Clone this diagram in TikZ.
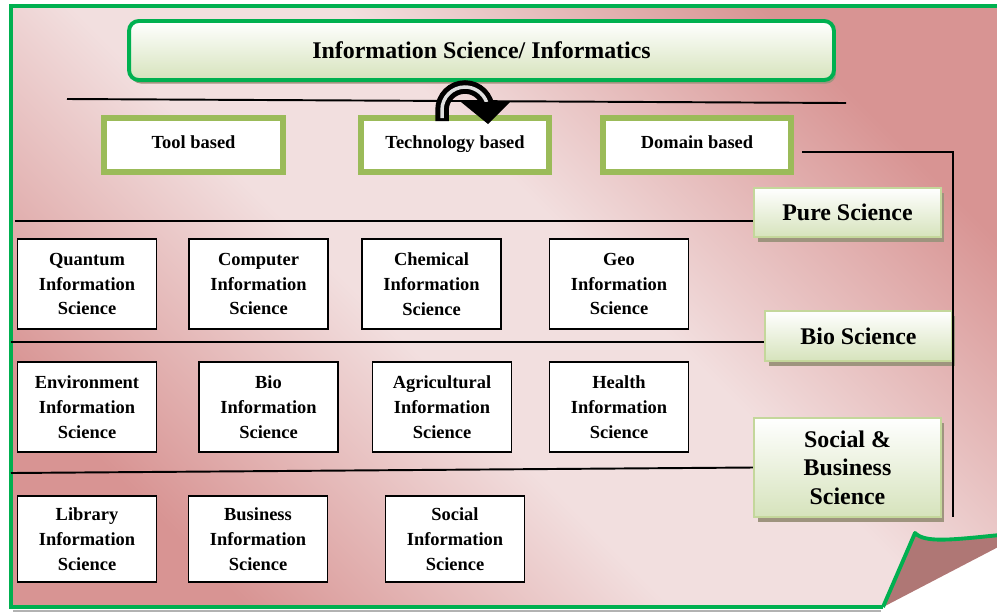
\documentclass[tikz,border=0pt]{standalone}
\usepackage{fontspec}
\setmainfont{Liberation Serif}
\usetikzlibrary{shadows}
\definecolor{framegreen}{RGB}{0,176,80}
\definecolor{olivegreen}{RGB}{155,187,89}
\definecolor{palegreen}{RGB}{214,227,188}
\definecolor{catborder}{RGB}{196,215,155}
\definecolor{pglight}{RGB}{242,223,223}
\definecolor{pgdark}{RGB}{216,148,147}
\definecolor{flapred}{RGB}{175,119,117}
\definecolor{shadowbrown}{RGB}{158,148,126}
%%%%%%% page shading, light band along the diagonal
\pgfdeclarehorizontalshading{pagefade}{100bp}{color(0bp)=(pgdark); color(25bp)=(pgdark);
  color(44bp)=(pglight); color(56bp)=(pglight); color(75bp)=(pgdark); color(100bp)=(pgdark)}
\tikzset{
every picture/.style={line width=0.8pt, >=stealth},
%%%%%%%%%% Node styles
titlebox/.style={rounded corners=5.5pt, draw=framegreen, line width=2.2pt,
                 top color=white, bottom color=palegreen, align=center,
                 font=\fontsize{13.6}{16}\selectfont\bfseries,
                 drop shadow={shadow xshift=0.04cm, shadow yshift=-0.07cm,
                              fill=shadowbrown, opacity=1}},
basebox/.style={draw=olivegreen, line width=3.4pt, fill=white,
                minimum height=1.08cm, align=center,
                text height=0.68em, text depth=0.3em,
                font=\fontsize{10.5}{14}\selectfont\bfseries},
catbox/.style={draw=catborder, line width=1.2pt, top color=white,
               bottom color=palegreen, minimum width=3.74cm, align=center,
               font=\fontsize{13.6}{16.2}\selectfont\bfseries,
               drop shadow={shadow xshift=0.07cm, shadow yshift=-0.1cm,
                            fill=shadowbrown, opacity=1}},
infobox/.style={draw=black, line width=1.1pt, fill=white,
                minimum width=2.78cm, minimum height=1.8cm, align=center,
                font=\fontsize{10.5}{14.2}\selectfont\bfseries},
%%%% different line styles:
sepline/.style={line width=1.1pt, black},
frame/.style={framegreen, line width=2.2pt},
arrowband/.style={line width=0.27cm, black},
arrowshine/.style={line width=0.07cm, black!12}
}

\begin{document}
\begin{tikzpicture}[x=0.02cm, y=-0.02cm]
\useasboundingbox (0,0) rectangle (997,613);
\fill[white] (0,0) rectangle (997,613);
%% the page with its folded corner
\shade[shading=pagefade, shading angle=45] (11,6) -- (1000,6) -- (1000,546) -- (883,607) -- (11,607) -- cycle;
\draw[gray!60, line width=0.6pt] (13,611) -- (881,611);
\draw[frame] (1000,6) -- (11,6) -- (11,607) -- (883,607);
\fill[flapred] (883,607) -- (915,533) .. controls (925,543) and (950,540) .. (1000,535) -- (1000,546) -- cycle;
\draw[frame, line join=round] (883,607) -- (915,533) .. controls (925,543) and (950,540) .. (1000,535);
%%%%%%%%%%%%%%%%%%%%%%%%%%%%%%%%%%%%%%%%%%%%%%
%% heading and the three bases
\node[titlebox, minimum width=14.1cm, minimum height=1.18cm] (infosci) at (481.5,50.5) {Information Science/ Informatics};
\coordinate (hl) at (67,99);
\coordinate (hr) at (846,103);
\draw[sepline] (hl) -- (hr);
\node[basebox, minimum width=3.58cm] (tool) at (193.5,145) {Tool based};
\node[basebox, minimum width=3.76cm] (tech) at (455,145) {Technology based};
\node[basebox, minimum width=3.76cm] (domain) at (697,145) {Domain based};
%% curved arrow over Technology based
\draw[arrowband] (442,121) -- (442,110) arc[start angle=180, end angle=360, radius=23];
\draw[arrowshine] (442,118) -- (442,110) arc[start angle=180, end angle=340, radius=23];
\fill[black] (461,102) -- (510,102) -- (488,124) -- cycle;
%%%%%%%%%%%%%%%%%%%%%%%%%%%%%%%%%%%%%%%%%%%%%%
%% domain branches
\node[catbox, minimum height=0.98cm] (pure) at (847.5,212.5) {Pure Science};
\node[catbox, minimum height=1.0cm] (bio) at (858.5,336) {Bio Science};
\node[catbox, minimum height=1.98cm] (social) at (847.5,467.5) {Social \&\\Business\\Science};
\coordinate (dstart) at (802,152);
\coordinate (dturn) at (953,152);
\coordinate (dend) at (953,517);
\draw[sepline] (dstart) -- (dturn) -- (dend);
\coordinate (pl) at (15,221);
\draw[sepline] (pl) -- (pl -| pure.west);
\coordinate (bl) at (11,342);
\draw[sepline] (bl) -- (bl -| bio.west);
\coordinate (sl) at (11,473);
\draw[sepline] (sl) -- (social.west);
%%%%%%%%%%%%%%%%%%%%%%%%%%%%%%%%%%%%%%%%%%%%%%
%% pure science row
\node[infobox] (qis) at (87,284) {Quantum\\Information\\Science};
\node[infobox] (cis) at (258.5,284) {Computer\\Information\\Science};
\node[infobox] (chis) at (431.5,284) {Chemical\\Information\\Science};
\node[infobox] (geois) at (619,284) {Geo\\Information\\Science};
%% bio science row
\node[infobox] (envis) at (87,407) {Environment\\Information\\Science};
\node[infobox] (biois) at (268.5,407) {Bio\\Information\\Science};
\node[infobox] (agris) at (442,407) {Agricultural\\Information\\Science};
\node[infobox] (healthis) at (619,407) {Health\\Information\\Science};
%% social and business row
\node[infobox, minimum height=1.72cm] (libis) at (87,539) {Library\\Information\\Science};
\node[infobox, minimum height=1.72cm] (busis) at (258,539) {Business\\Information\\Science};
\node[infobox, minimum height=1.72cm] (socis) at (455,539) {Social\\Information\\Science};
\end{tikzpicture}
\end{document}
